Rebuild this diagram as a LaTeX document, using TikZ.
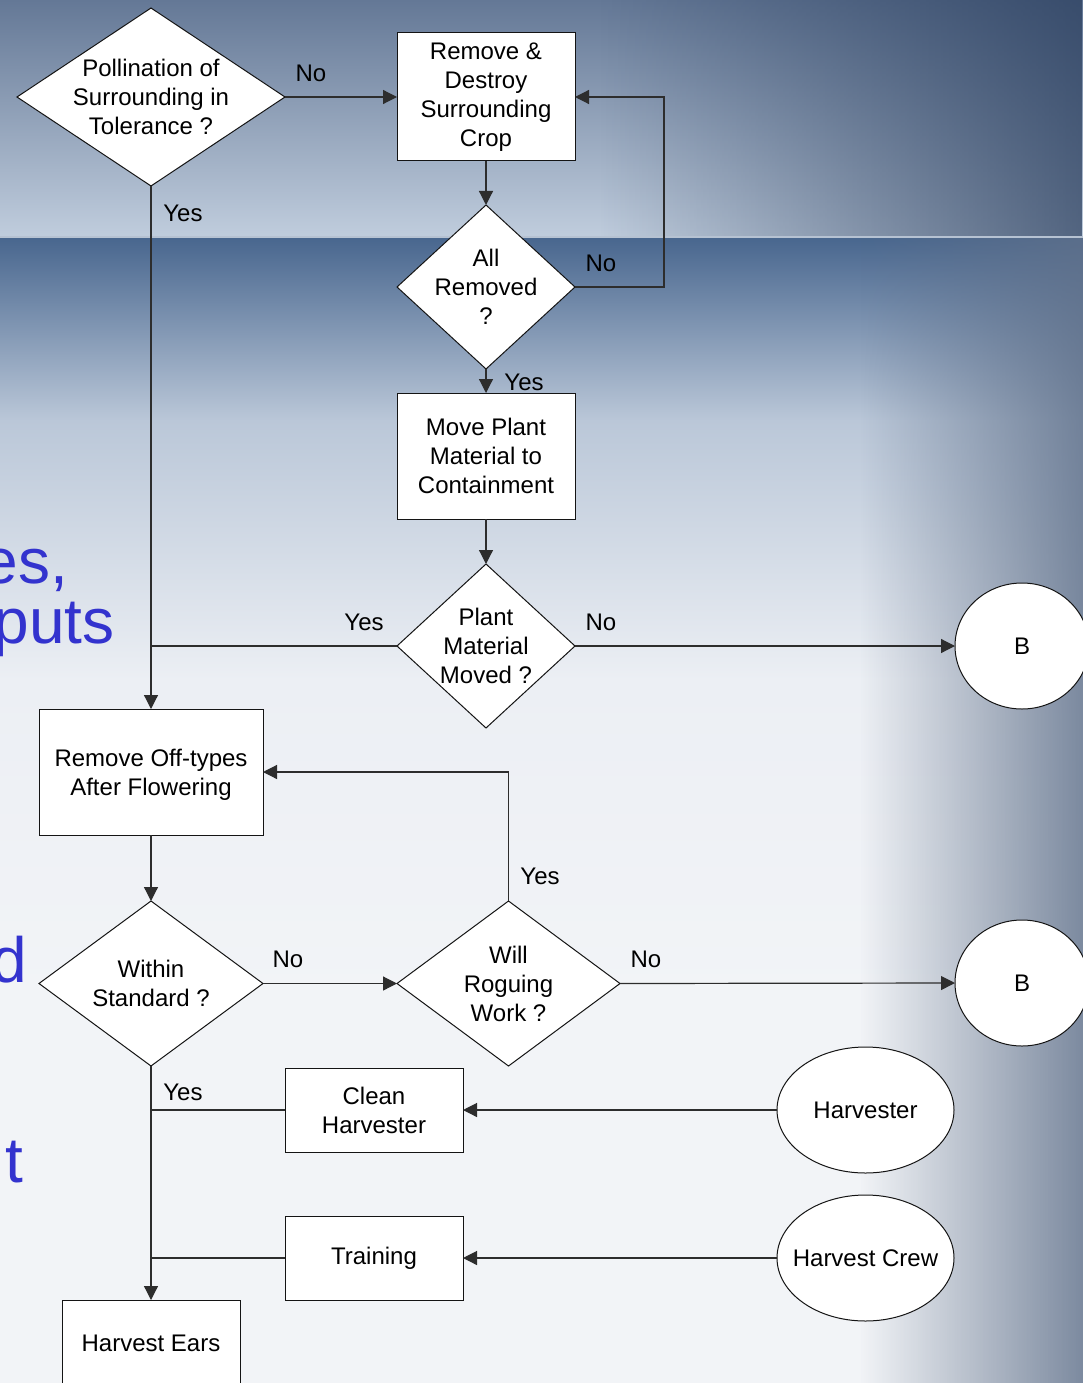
\documentclass[tikz,border=0pt]{standalone}
\usepackage{fontspec}
\setmainfont{Liberation Sans}
\usetikzlibrary{shapes.geometric,arrows.meta,fadings}
\definecolor{topA}{RGB}{100,120,150}
\definecolor{topB}{RGB}{192,205,221}
\definecolor{lowA}{RGB}{72,102,142}
\definecolor{lowB}{RGB}{186,199,216}
\definecolor{lowC}{RGB}{236,239,244}
\definecolor{lowD}{RGB}{242,244,247}
\definecolor{shadeR}{RGB}{95,112,138}
\definecolor{shadeT}{RGB}{40,60,92}
\definecolor{slideblue}{RGB}{51,51,206}
\definecolor{lineC}{RGB}{20,20,20}
\definecolor{connC}{RGB}{45,45,45}
\tikzfading[name=fadeR, left color=transparent!100, right color=transparent!0]
\newcommand\flowfnt{\fontsize{24}{29}\selectfont}
\newcommand\slidefnt{\fontsize{64}{64}\selectfont}
\tikzset{
  ln/.style={draw=connC, line width=1.2pt},
  arr/.style={ln, -{Triangle[length=14pt,width=14pt]}},
  boxn/.style={draw=lineC, line width=1pt, fill=white, rectangle, inner sep=0pt, outer sep=0pt, align=center, font=\flowfnt},
  dian/.style={draw=lineC, line width=1pt, fill=white, diamond, inner sep=0pt, outer sep=0pt},
  elln/.style={draw=lineC, line width=1pt, fill=white, ellipse, inner sep=0pt, outer sep=0pt},
  txt/.style={align=center, font=\flowfnt, inner sep=0pt},
  lbl/.style={font=\flowfnt, inner sep=0pt},
  big/.style={font=\slidefnt, text=slideblue, inner sep=0pt, anchor=base east},
}
\begin{document}
\begin{tikzpicture}[x=1pt,y=-1pt]
\useasboundingbox (0,0) rectangle (1083,1383);
\clip (0,0) rectangle (1083,1383);
% background
\shade[top color=topA, bottom color=topB] (0,0) rectangle (1083,237);
\fill[shadeT, path fading=fadeR, fill opacity=0.72] (600,0) rectangle (1083,237);
\shade[top color=lowA, bottom color=lowB] (0,237) rectangle (1083,420);
\shade[top color=lowB, bottom color=lowC] (0,420) rectangle (1083,680);
\shade[top color=lowC, bottom color=lowD] (0,680) rectangle (1083,1000);
\fill[lowD] (0,1000) rectangle (1083,1383);
\fill[shadeR, path fading=fadeR, fill opacity=0.8] (860,237) rectangle (1083,1383);
\draw[white!60!lowA, line width=1.2pt] (0,237) -- (1083,237);
% slide text behind
\node[big] (s1) at (68,583) {es,};
\node[big] (s2) at (115,643) {puts};
\node[big] (s3) at (27,982) {d};
\node[big] (s4) at (23,1182) {t};
% nodes
\node[dian, minimum width=268pt, minimum height=178pt] (d1) at (151,97) {};
\node[txt] (t1) at (d1.center) {Pollination of\\Surrounding in\\Tolerance ?};
\node[boxn, minimum width=178pt, minimum height=128pt] (b1) at (486,97) {Remove \&\\Destroy\\Surrounding\\Crop};
\node[dian, minimum width=178pt, minimum height=164pt] (d2) at (486,287) {};
\node[txt] (t2) at (d2.center) {All\\Removed\\?};
\node[boxn, minimum width=178pt, minimum height=126pt] (b3) at (486,456) {Move Plant\\Material to\\Containment};
\node[dian, minimum width=178pt, minimum height=164pt] (d3) at (486,646) {};
\node[txt] (t3) at (d3.center) {Plant\\Material\\Moved ?};
\node[elln, minimum width=134pt, minimum height=126pt] (c1) at (1022,646) {};
\node[txt] (tc1) at (c1.center) {B};
\node[boxn, minimum width=224pt, minimum height=126pt, text depth=-4pt] (b4) at (151,772) {Remove Off-types\\After Flowering};
\node[dian, minimum width=224pt, minimum height=165pt] (d4) at (151,983.5) {};
\node[txt] (t4) at (d4.center) {Within\\Standard ?};
\node[dian, minimum width=223pt, minimum height=165pt] (d5) at (508.5,983.5) {};
\node[txt] (t5) at (d5.center) {Will\\Roguing\\Work ?};
\node[elln, minimum width=134pt, minimum height=126pt] (c2) at (1022,983) {};
\node[txt] (tc2) at (c2.center) {B};
\node[boxn, minimum width=178pt, minimum height=84pt] (b5) at (374,1110) {Clean\\Harvester};
\node[elln, minimum width=177pt, minimum height=126pt] (e1) at (865.5,1110) {};
\node[txt] (te1) at (e1.center) {Harvester};
\node[boxn, minimum width=178pt, minimum height=84pt] (b6) at (374,1258) {Training};
\node[elln, minimum width=177pt, minimum height=126pt] (e2) at (865.5,1258) {};
\node[txt] (te2) at (e2.center) {Harvest Crew};
\node[boxn, minimum width=178pt, minimum height=86pt] (b7) at (151,1343) {Harvest Ears};
% connector corner
\coordinate (k1) at (664,287);
% connectors
\draw[arr] (d1.east) -- (b1.west);
\draw[arr] (b1.south) -- (d2.north);
\draw[arr] (d2.east) -- (k1) |- (b1.east);
\draw[arr] (d2.south) -- (b3.north);
\draw[arr] (b3.south) -- (d3.north);
\draw[arr] (d3.east) -- (c1.west);
\draw[ln] (d3.west) -- (d3.west -| d1.south);
\draw[arr] (d1.south) -- (b4.north);
\draw[arr] (b4.south) -- (d4.north);
\draw[arr] (d4.east) -- (d5.west);
\draw[arr] (d5.north) |- (b4.east);
\draw[arr] (d5.east) -- (c2.west);
\draw[arr] (d4.south) -- (b7.north);
\draw[ln] (b5.west) -- (b5.west -| d4.south);
\draw[arr] (e1.west) -- (b5.east);
\draw[ln] (b6.west) -- (b6.west -| d4.south);
\draw[arr] (e2.west) -- (b6.east);
% labels
\node[lbl] (l1) at (311,73) {No};
\node[lbl] (l2) at (183,213) {Yes};
\node[lbl] (l3) at (601,263) {No};
\node[lbl] (l4) at (524,382) {Yes};
\node[lbl] (l5) at (601,622) {No};
\node[lbl] (l6) at (364,622) {Yes};
\node[lbl] (l7) at (288,959) {No};
\node[lbl] (l8) at (540,876) {Yes};
\node[lbl] (l9) at (646,959) {No};
\node[lbl] (l10) at (183,1092) {Yes};
\end{tikzpicture}
\end{document}
